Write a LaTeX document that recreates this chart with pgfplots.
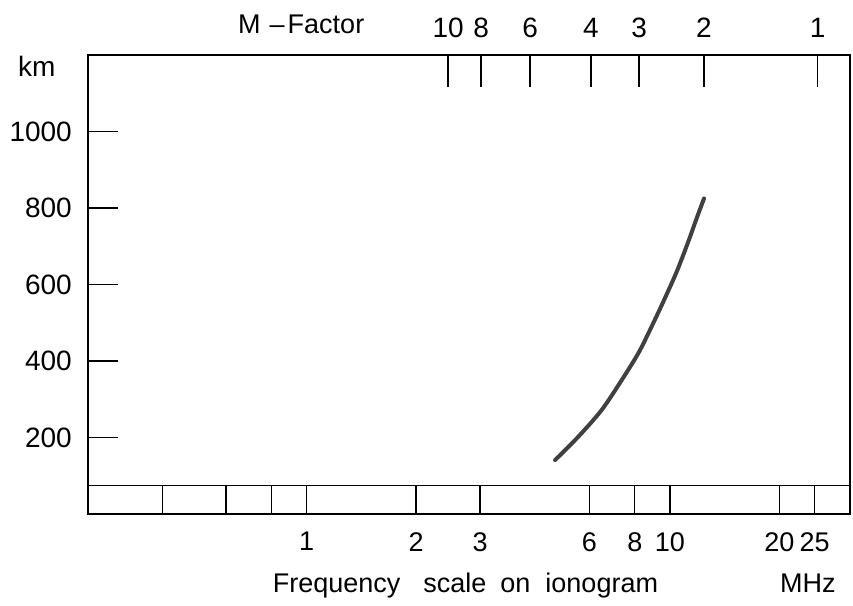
\documentclass[border=0pt]{standalone}
\usepackage{fontspec}
\setmainfont{Liberation Sans}
\usepackage{pgfplots}
\pgfplotsset{compat=1.18}
\begin{document}
\begin{tikzpicture}
\useasboundingbox (-88pt,-91pt) rectangle (765pt,514pt);
\begin{axis}[
 scale only axis, width=762pt, height=459pt,
 xmode=log, xmin=0.25, xmax=31.3, ymin=0, ymax=1200,
 clip=false,
 axis line style={line width=1.3pt, black},
 xtick={1,2,3,6,8,10,20,25}, xticklabels={1,2,3,6,8,10,20,25},
 xtick style={draw=none}, minor xtick={}, xtick pos=bottom,
 xticklabel style={font=\fontsize{27}{27}\selectfont, anchor=north, inner sep=0pt, yshift=-18pt},
 ytick={200,400,600,800,1000}, yticklabels={200,400,600,800,1000},
 ytick pos=left, tick align=inside, major tick length=30pt,
 ytick style={line width=1.3pt, black},
 yticklabel style={font=\fontsize{28}{28}\selectfont, anchor=east, inner sep=0pt, xshift=-16pt},
]
% frequency strip
\draw[line width=1.3pt] (axis cs:0.25,75) -- (axis cs:31.3,75);
\draw[line width=1.3pt]
  (axis cs:0.4,0) -- (axis cs:0.4,75)
  (axis cs:0.6,0) -- (axis cs:0.6,75)
  (axis cs:0.8,0) -- (axis cs:0.8,75)
  (axis cs:1,0) -- (axis cs:1,75)
  (axis cs:2,0) -- (axis cs:2,75)
  (axis cs:3,0) -- (axis cs:3,75)
  (axis cs:6,0) -- (axis cs:6,75)
  (axis cs:8,0) -- (axis cs:8,75)
  (axis cs:10,0) -- (axis cs:10,75)
  (axis cs:20,0) -- (axis cs:20,75)
  (axis cs:25,0) -- (axis cs:25,75);
% M-factor scale
\draw[line width=1.3pt]
  (axis cs:2.45,1200) -- (axis cs:2.45,1116)
  (axis cs:3.02,1200) -- (axis cs:3.02,1116)
  (axis cs:4.12,1200) -- (axis cs:4.12,1116)
  (axis cs:6.06,1200) -- (axis cs:6.06,1116)
  (axis cs:8.22,1200) -- (axis cs:8.22,1116)
  (axis cs:12.4,1200) -- (axis cs:12.4,1116)
  (axis cs:25.5,1200) -- (axis cs:25.5,1116);
\begin{scope}[every node/.style={font=\fontsize{28}{28}\selectfont, anchor=base, inner sep=0pt}]
\node at ([yshift=17pt]axis cs:2.45,1200) {10};
\node at ([yshift=17pt]axis cs:3.02,1200) {8};
\node at ([yshift=17pt]axis cs:4.12,1200) {6};
\node at ([yshift=17pt]axis cs:6.06,1200) {4};
\node at ([yshift=17pt]axis cs:8.22,1200) {3};
\node at ([yshift=17pt]axis cs:12.4,1200) {2};
\node at ([yshift=17pt]axis cs:25.5,1200) {1};
\end{scope}
\node[font=\fontsize{27}{27}\selectfont, anchor=base west, inner sep=0pt] at (rel axis cs:0.1969,1.0458) {M\hspace{9pt}--\hspace{3pt}Factor};
\node[font=\fontsize{28}{28}\selectfont, anchor=base west, inner sep=0pt] at (rel axis cs:-0.0919,0.9542) {km};
\node[font=\fontsize{27}{27}\selectfont, anchor=base west, inner sep=0pt] at (rel axis cs:0.2424,-0.172) {Frequency\hspace{23pt}scale\hspace{14pt}on\hspace{15pt}ionogram};
\node[font=\fontsize{27}{27}\selectfont, anchor=base west, inner sep=0pt] at (rel axis cs:0.9080,-0.172) {MHz};
% virtual height curve
\addplot[black!75, line width=4pt, smooth, line cap=round] coordinates {
 (4.826,141) (5.592,202) (6.486,272) (7.364,350) (8.178,420)
 (8.808,481) (9.585,555) (10.43,633) (11.23,712) (11.84,773) (12.41,825)
};
\end{axis}
\end{tikzpicture}
\end{document}
